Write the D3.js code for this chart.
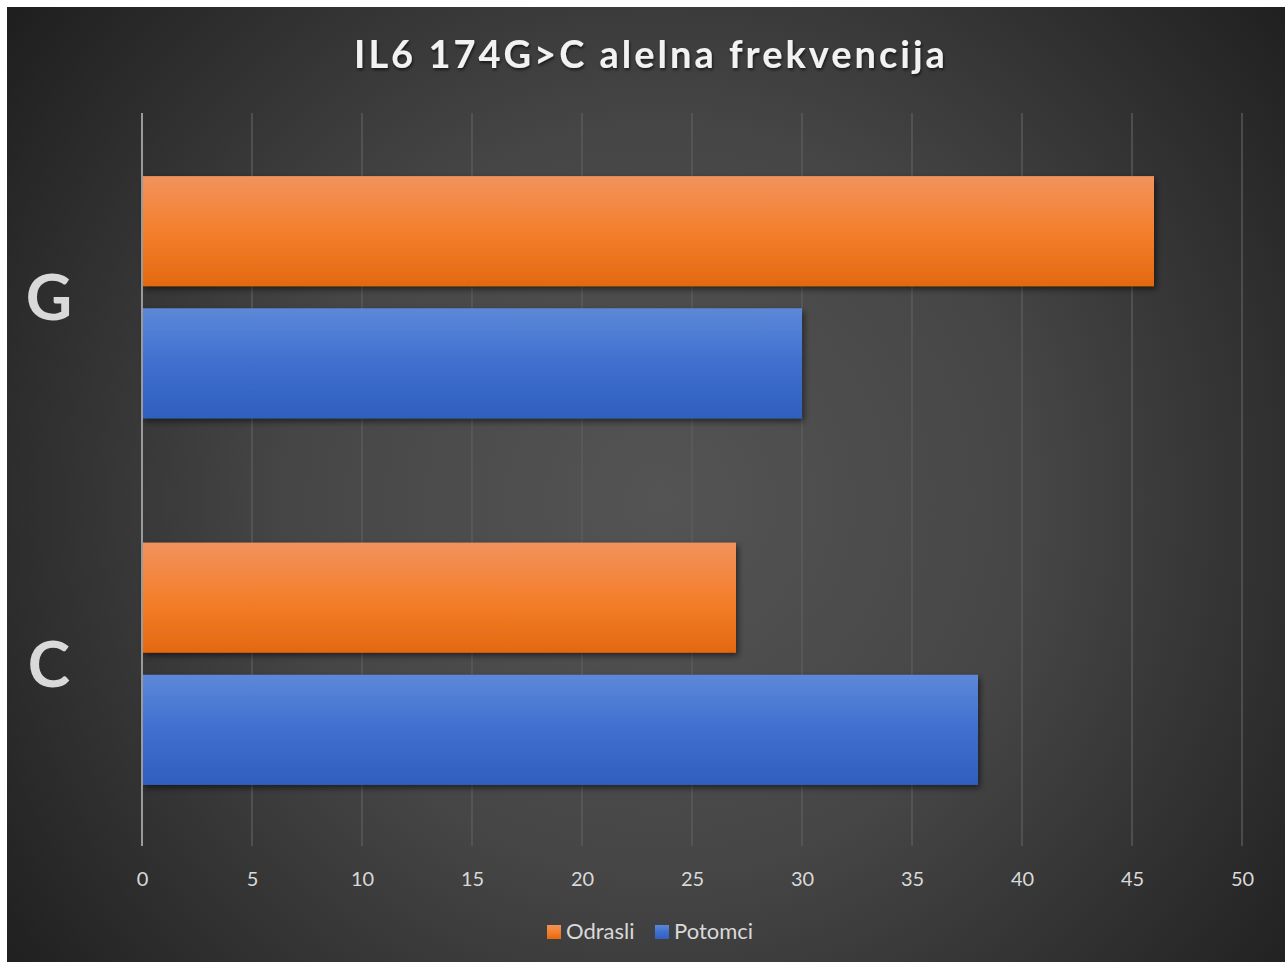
<!DOCTYPE html>
<html>
<head>
<meta charset="utf-8">
<script src="https://cdn.jsdelivr.net/npm/d3@7/dist/d3.min.js"></script>
<style>
  html, body { margin: 0; padding: 0; background: #ffffff; }
  svg { display: block; }
</style>
</head>
<body>
<svg id="chart" width="1285" height="962"></svg>
<script>
// Allele frequencies (%) per group
const categories = ["G", "C"];
const seriesNames = ["Odrasli", "Potomci"];
const odrasli = [46, 27];
const potomci = [30, 38];
const xTicks = [0, 5, 10, 15, 20, 25, 30, 35, 40, 45, 50];
const titleText = "IL6 174G>C alelna frekvencija";

const seriesValues = { "Odrasli": odrasli, "Potomci": potomci };

const W = 1285, H = 962;
const svg = d3.select("#chart");
const defs = svg.append("defs");

// Radial background
const bg = defs.append("radialGradient").attr("id", "bgGrad")
  .attr("gradientUnits", "userSpaceOnUse")
  .attr("cx", 660).attr("cy", 500).attr("r", 820);
bg.append("stop").attr("offset", "0%").attr("stop-color", "#545454");
bg.append("stop").attr("offset", "45%").attr("stop-color", "#464646");
bg.append("stop").attr("offset", "100%").attr("stop-color", "#1e1e1e");

// Bar fills: lighter top, darker bottom
const gradSpecs = {
  "Odrasli": ["#f1935d", "#f47f2d", "#e4690f"],
  "Potomci": ["#5d88d8", "#3f6fcf", "#2f5fbf"]
};
seriesNames.forEach((s, i) => {
  const g = defs.append("linearGradient").attr("id", "barGrad" + i)
    .attr("x1", 0).attr("y1", 0).attr("x2", 0).attr("y2", 1);
  g.append("stop").attr("offset", "0%").attr("stop-color", gradSpecs[s][0]);
  g.append("stop").attr("offset", "50%").attr("stop-color", gradSpecs[s][1]);
  g.append("stop").attr("offset", "100%").attr("stop-color", gradSpecs[s][2]);
});

const shadow = defs.append("filter").attr("id", "barShadow")
  .attr("x", "-5%").attr("y", "-20%").attr("width", "115%").attr("height", "150%");
shadow.append("feDropShadow").attr("dx", 2).attr("dy", 3)
  .attr("stdDeviation", 3).attr("flood-color", "#000").attr("flood-opacity", 0.55);

const titleShadow = defs.append("filter").attr("id", "titleShadow")
  .attr("x", "-10%").attr("y", "-30%").attr("width", "120%").attr("height", "160%");
titleShadow.append("feDropShadow").attr("dx", 1).attr("dy", 2)
  .attr("stdDeviation", 1.5).attr("flood-color", "#000").attr("flood-opacity", 0.6);

svg.append("rect").attr("x", 7).attr("y", 7).attr("width", W - 7).attr("height", H - 7)
  .attr("fill", "url(#bgGrad)");

// Scales
const plot = { left: 142, right: 1242, top: 114, bottom: 847 };
const x = d3.scaleLinear().domain([0, 50]).range([plot.left, plot.right]);
const y0 = d3.scaleBand().domain(categories).range([plot.top, plot.bottom]).padding(0);
const y1 = d3.scaleBand().domain(seriesNames).range([0, y0.bandwidth()])
  .paddingInner(0.167).paddingOuter(0.47);

// Gridlines
svg.append("g")
  .selectAll("line").data(xTicks.filter(t => t !== 0)).join("line")
  .attr("x1", d => x(d)).attr("x2", d => x(d))
  .attr("y1", plot.top - 1).attr("y2", plot.bottom - 1)
  .attr("stroke", "#5e5e5e").attr("stroke-width", 1.3);

// Bars
const groups = svg.append("g").selectAll("g").data(categories).join("g")
  .attr("transform", d => `translate(0,${y0(d)})`);
groups.selectAll("rect")
  .data((c, ci) => seriesNames.map((s, si) => ({ s, si, v: seriesValues[s][ci] })))
  .join("rect")
  .attr("x", x(0))
  .attr("y", d => y1(d.s))
  .attr("width", d => x(d.v) - x(0))
  .attr("height", y1.bandwidth())
  .attr("fill", d => `url(#barGrad${d.si})`)
  .attr("filter", "url(#barShadow)");

// Value axis line at zero
svg.append("line")
  .attr("x1", x(0)).attr("x2", x(0)).attr("y1", plot.top - 1).attr("y2", plot.bottom - 1)
  .attr("stroke", "#9a9a9a").attr("stroke-width", 2);

// X axis tick labels
const xAxis = d3.axisBottom(x).tickValues(xTicks).tickSize(0).tickPadding(0);
const xg = svg.append("g").attr("transform", `translate(0,${plot.bottom})`).call(xAxis);
xg.select(".domain").remove();
xg.selectAll("text")
  .attr("dy", null).attr("y", 39)
  .attr("font-family", "Lato, 'Open Sans', sans-serif")
  .attr("font-size", 20).attr("fill", "#d9d9d9");

// Category labels
svg.append("g").selectAll("text").data(categories).join("text")
  .attr("x", 49).attr("y", d => y0(d) + y0.bandwidth() / 2)
  .attr("dy", "0.36em")
  .attr("text-anchor", "middle")
  .attr("font-family", "Lato, 'Open Sans', sans-serif")
  .attr("font-weight", "bold").attr("font-size", 64)
  .attr("fill", "#d9d9d9")
  .text(d => d);

// Title
svg.append("text")
  .attr("x", 651).attr("y", 68)
  .attr("text-anchor", "middle")
  .attr("font-family", "Lato, 'Open Sans', sans-serif")
  .attr("font-weight", "bold").attr("font-size", 38)
  .attr("letter-spacing", 3.0)
  .attr("fill", "#f2f2f2")
  .attr("filter", "url(#titleShadow)")
  .text(titleText);

// Legend
const legendX = [547, 655];
const lg = svg.append("g").selectAll("g").data(seriesNames).join("g")
  .attr("transform", (d, i) => `translate(${legendX[i]},925)`);
lg.append("rect").attr("width", 14).attr("height", 14)
  .attr("fill", d => `url(#barGrad${seriesNames.indexOf(d)})`);
lg.append("text").attr("x", 19).attr("y", 14)
  .attr("font-family", "Lato, 'Open Sans', sans-serif")
  .attr("font-size", 22).attr("fill", "#d9d9d9")
  .text(d => d);
</script>
</body>
</html>
